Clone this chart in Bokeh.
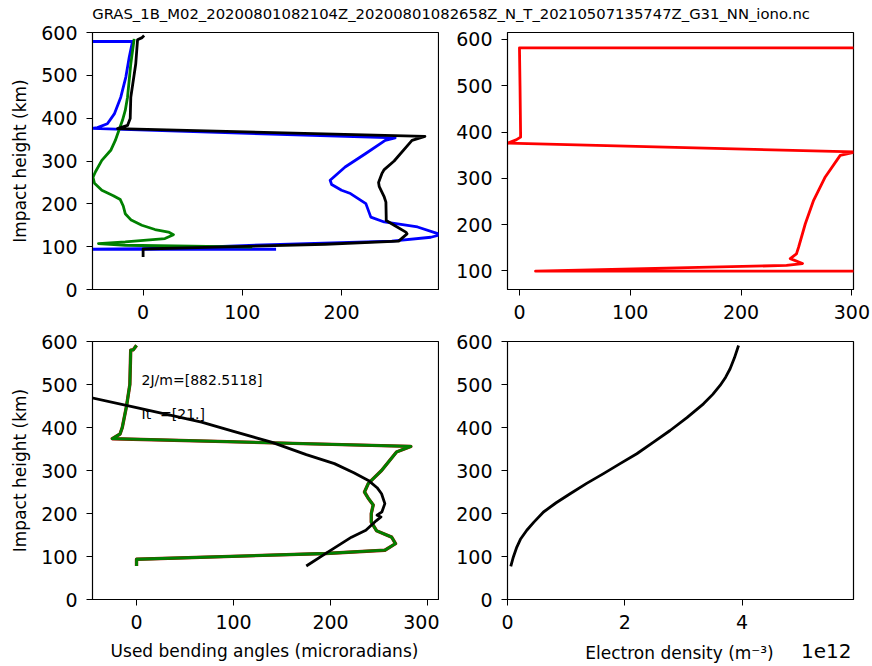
from bokeh.plotting import figure
from bokeh.layouts import column, row
from bokeh.models import Range1d, Label, FixedTicker, ColumnDataSource
from bokeh.core.properties import value
from bokeh.embed import file_html
from bokeh.resources import INLINE

FONT = "DejaVu Sans"
TITLE = "GRAS_1B_M02_20200801082104Z_20200801082658Z_N_T_20210507135747Z_G31_NN_iono.nc"

# ---------------- data ----------------
# top-left panel: bending angle profiles (microradians) vs impact height (km)
tl_blue_x = [-60, -10.7, -14, -17.4, -22.5, -29, -36, -46, -52, 254, 244, 224, 203.6, 188.5, 190, 200, 209,
             224.5, 229.5, 243, 276.6, 297, 300, 290, 250.7, 129.7, 60, 0, -60, 134]
tl_blue_y = [579, 579, 542, 496, 449, 410, 387, 378, 376, 354, 348, 317, 286, 255, 245, 231.6, 224,
             200.5, 169, 157.7, 146, 130.6, 128, 122, 113, 105, 99, 95.5, 94, 94]
tl_green_x = [-9, -12.4, -15.7, -18, -20.8, -28, -32.6, -41.6, -48, -50.5, -49, -41.6, -30, -23, -20, -18,
              -12, -1.3, 12, 25.6, 30.6, 22, -18, -45, -18, 49, 110]
tl_green_y = [585, 527, 449, 418, 395, 348, 325, 301.5, 275, 262, 248, 231.6, 219, 210, 195, 177,
              162, 150, 140, 134, 128, 119, 111, 107.3, 103.3, 101, 99]
tl_black_x = [1, -1, -5.6, -7.4, -12.4, -13, -15.7, -25.8, 284, 271, 253, 243, 240.6, 237.3, 238, 243,
              244.7, 245, 245, 253, 264.8, 266, 257.5, 183.5, 82.7, 0, 0]
tl_black_y = [593, 588, 583, 527, 449, 399, 383, 375.5, 357.5, 348, 300, 280, 270.5, 250, 240, 216,
              204, 169, 161, 150, 134, 130, 113, 105.6, 99.4, 94.5, 76]

# top-right panel
tr_red_x = [350, 0, 0.5, 1, 1, -3, -11, 303, 289.5, 276, 265.5, 258, 252, 250, 244.4, 255.5, 241, 14.5, 350]
tr_red_y = [582, 582, 500, 400, 389, 383, 376, 357, 349.7, 303, 252.6, 202, 151.8, 137, 126.7, 116, 112, 99.5, 99.5]

# bottom-left panel: used bending angles and fit
bl_used_x = [0, -3.4, -6, -6.9, -10.3, -14.7, -17, -25, 282.8, 268, 252.6, 239, 235, 239, 244, 242, 242,
             247.4, 263, 267, 256, 195, 0, 0]
bl_used_y = [591, 580.7, 580, 500, 450, 400, 385, 374, 356, 343, 300, 270, 250, 235, 220, 200, 180,
             160, 145, 130, 114.6, 107, 93.6, 78]
bl_fit_x = [-50, 0, 67, 100, 139, 175, 204, 224, 239, 248, 252.6, 256, 253, 248, 252, 247, 236.4, 221.6,
            197.6, 175]
bl_fit_y = [471, 446, 412.6, 391, 366, 337, 316, 295, 277, 260, 246, 223, 204, 196, 192, 183, 161, 145,
            110.6, 78]
ann_x = [5.2, 5.2]
ann_y = [510, 432]
ann_text = ["2J/m=[882.5118]", "It\u00a0\u00a0=[21.]"]

# bottom-right panel: electron density (units of 1e12 m^-3)
ne_x = [0.056, 0.10, 0.159, 0.22, 0.329, 0.45, 0.614, 0.83, 1.068, 1.35, 1.637, 1.92, 2.205, 2.49,
        2.773, 3.06, 3.342, 3.5, 3.625, 3.72, 3.796, 3.87, 3.94]
ne_y = [77, 99, 122, 140, 161, 180, 203.5, 225, 246, 270, 292.7, 316, 339, 366,
        393, 423, 455, 477, 497.8, 517, 536.6, 562, 590.7]

height_ticks = [0, 100, 200, 300, 400, 500, 600]
angle_ticks = [0, 100, 200, 300]
ne_ticks = [0, 2, 4]

TICK_FS = "19px"
LW = 2.8


def make_fig(w, h, xr, yr, bl, br, bt, bb):
    p = figure(width=w, height=h, x_range=Range1d(*xr), y_range=Range1d(*yr),
               output_backend="svg", toolbar_location=None,
               min_border_left=bl, min_border_right=br, min_border_top=bt, min_border_bottom=bb)
    p.xgrid.visible = False
    p.ygrid.visible = False
    p.outline_line_color = "black"
    p.outline_line_width = 1.2
    p.outline_line_alpha = 1
    p.background_fill_color = "white"
    p.border_fill_color = "white"
    for ax in (p.xaxis[0], p.yaxis[0]):
        ax.major_tick_out = 6
        ax.major_tick_in = 0
        ax.minor_tick_line_color = None
        ax.axis_line_color = "black"
        ax.major_tick_line_color = "black"
        ax.major_label_text_font = FONT
        ax.major_label_text_font_size = TICK_FS
        ax.major_label_text_color = "black"
        ax.axis_label_text_font = FONT
        ax.axis_label_text_font_style = "normal"
        ax.axis_label_text_color = "black"
    p.xaxis.major_label_standoff = 9
    p.yaxis.major_label_standoff = 9
    return p


def text_strip(w, h):
    s = figure(width=w, height=h, x_range=Range1d(0, w), y_range=Range1d(0, h),
               output_backend="svg", toolbar_location=None, min_border=0)
    s.axis.visible = False
    s.grid.visible = False
    s.outline_line_color = None
    s.background_fill_color = "white"
    s.border_fill_color = "white"
    return s


# title strip (23 px high)
pt = text_strip(872, 23)
pt.add_layout(Label(x=91.7, y=10.5, text=TITLE, text_font=FONT, text_font_size="14.8px",
                    text_color="black", text_baseline="middle", text_align="left"))

# top-left
p1 = make_fig(439, 303, (-51, 297.7), (0, 600), 92, 1, 9, 37)
p1.line(tl_blue_x, tl_blue_y, color="#0000ff", line_width=LW, line_join="round")
p1.line(tl_green_x, tl_green_y, color="#008000", line_width=LW, line_join="round")
p1.line(tl_black_x, tl_black_y, color="black", line_width=LW, line_join="round")
p1.yaxis.ticker = FixedTicker(ticks=height_ticks)
p1.xaxis.ticker = FixedTicker(ticks=angle_ticks)
p1.yaxis.axis_label = "Impact height (km)"
p1.yaxis.axis_label_text_font_size = "17px"
p1.yaxis.axis_label_standoff = 8

# top-right
p2 = make_fig(433, 303, (-10.8, 301.5), (60, 615), 68, 19, 9, 37)
p2.line(tr_red_x, tr_red_y, color="#ff0000", line_width=LW, line_join="round")
p2.yaxis.ticker = FixedTicker(ticks=height_ticks)
p2.xaxis.ticker = FixedTicker(ticks=angle_ticks)

# bottom-left
p3 = make_fig(439, 312, (-45.4, 311.3), (0, 600), 92, 1, 15, 39)
src = ColumnDataSource(dict(x=ann_x, y=ann_y, t=ann_text))
p3.text(x="x", y="y", text="t", source=src, text_font=value(FONT), text_font_size="14px",
        text_color="black", text_baseline="middle", text_align="left")
p3.line(bl_used_x, bl_used_y, color="#a01000", line_width=LW + 0.6, line_join="round")
p3.line(bl_used_x, bl_used_y, color="#008000", line_width=LW, line_join="round")
p3.line(bl_fit_x, bl_fit_y, color="black", line_width=LW, line_join="round")
p3.yaxis.ticker = FixedTicker(ticks=height_ticks)
p3.xaxis.ticker = FixedTicker(ticks=angle_ticks)
p3.yaxis.axis_label = "Impact height (km)"
p3.yaxis.axis_label_text_font_size = "17px"
p3.yaxis.axis_label_standoff = 8

# bottom-right
p4 = make_fig(433, 312, (0, 5.9), (0, 600), 68, 19, 15, 39)
p4.line(ne_x, ne_y, color="black", line_width=LW, line_join="round")
p4.yaxis.ticker = FixedTicker(ticks=height_ticks)
p4.xaxis.ticker = FixedTicker(ticks=ne_ticks)

# bottom strip with the x-axis labels of the lower panels (28 px high)
cap = text_strip(872, 28)
cap.add_layout(Label(x=264, y=16, text="Used bending angles (microradians)", text_font=FONT,
                     text_font_size="17px", text_color="black", text_align="center",
                     text_baseline="middle"))
cap.add_layout(Label(x=679, y=14, text="Electron density (m\u207b\u00b3)", text_font=FONT,
                     text_font_size="17px", text_color="black", text_align="center",
                     text_baseline="middle"))
cap.add_layout(Label(x=851, y=16, text="1e12", text_font=FONT, text_font_size="20px",
                     text_color="black", text_align="right", text_baseline="middle"))

layout = column(pt, row(p1, p2), row(p3, p4), cap)
open("out.html", "w").write(file_html(layout, INLINE))
